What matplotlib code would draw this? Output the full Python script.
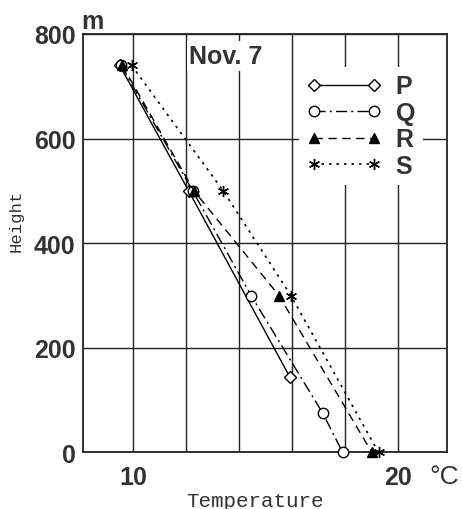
import matplotlib
matplotlib.use("Agg")
import matplotlib.pyplot as plt

# Temperature profiles, Nov. 7
p_temp = [9.5, 12.1, 15.9]
p_height = [740, 500, 145]
q_temp = [9.55, 12.25, 14.45, 17.15, 17.9]
q_height = [740, 500, 300, 75, 0]
r_temp = [9.6, 12.3, 15.5, 19.0]
r_height = [740, 500, 300, 0]
s_temp = [9.95, 13.4, 15.95, 19.25]
s_height = [740, 500, 300, 0]

x_grid = [10, 12, 14, 16, 18, 20]
x_labels = ["10", "", "", "", "", "20"]
y_ticks = [0, 200, 400, 600, 800]

bold = dict(family="Liberation Sans", weight="bold")
mono = dict(family="Liberation Mono")

fig = plt.figure(figsize=(4.62, 5.10), dpi=100)
ax = fig.add_axes([0.1786, 0.1108, 0.789, 0.8206])

ax.plot(p_temp, p_height, color="black", lw=1.0, ls="-", marker="D", ms=6,
        mfc="white", mec="black", mew=1.0, label="P", clip_on=False, zorder=3)
ax.plot(q_temp, q_height, color="black", lw=1.0, ls=(0, (8, 3, 1.5, 3)), marker="o", ms=7.5,
        mfc="white", mec="black", mew=1.0, label="Q", clip_on=False, zorder=3)
ax.plot(r_temp, r_height, color="black", lw=1.0, ls=(0, (6, 4)), marker="^", ms=7,
        mfc="black", mec="black", label="R", clip_on=False, zorder=3)
ax.plot(s_temp, s_height, color="black", lw=1.2, ls=(0, (1.5, 3)), marker=(6, 2, 0), ms=8,
        mec="black", mew=1.0, label="S", clip_on=False, zorder=3)

ax.set_xlim(8.1, 21.83)
ax.set_ylim(0, 800)
ax.set_xticks(x_grid)
ax.set_xticklabels(x_labels, fontsize=18, **bold)
ax.set_yticks(y_ticks)
ax.set_yticklabels([str(v) for v in y_ticks], fontsize=18, **bold)
ax.tick_params(axis="both", length=0, colors="#333333")
ax.tick_params(axis="x", pad=9)
ax.tick_params(axis="y", pad=5)
ax.grid(True, color="#222222", lw=1.0)
ax.set_axisbelow(True)
for sp in ax.spines.values():
    sp.set_linewidth(1.3)
    sp.set_color("#222222")

# axis titles placed by hand (condensed "Height" on the left)
fig.text(255 / 462, 1 - 502 / 510, "Temperature", ha="center", va="center",
         fontsize=15, color="#333333", **mono)
fig.text(16 / 462, 1 - 221 / 510, "Height", ha="center", va="center",
         rotation=90, fontsize=12.5, color="#333333", **mono)

ax.text(0.394, 0.947, "Nov. 7", transform=ax.transAxes, ha="center", va="center",
        fontsize=18, color="#333333", bbox=dict(fc="white", ec="none", pad=2), **bold)
fig.text(92 / 462, 1 - 22 / 510, "m", ha="center", va="center", fontsize=18,
         color="#333333", **bold)
fig.text(459 / 462, 1 - 477 / 510, "°C", ha="right", va="center", fontsize=19,
         color="#333333", family="Liberation Sans")

leg = ax.legend(loc="upper left", bbox_to_anchor=(0.56, 0.951), numpoints=2,
                handlelength=3.0, handletextpad=0.56, labelspacing=0.1,
                borderpad=0.3, frameon=True, fancybox=False,
                prop=dict(family="Liberation Sans", weight="bold", size=18))
leg.get_frame().set_facecolor("white")
leg.get_frame().set_edgecolor("none")
leg.get_frame().set_alpha(1)
for t in leg.get_texts():
    t.set_color("#333333")

fig.savefig("out.png", dpi=100)
